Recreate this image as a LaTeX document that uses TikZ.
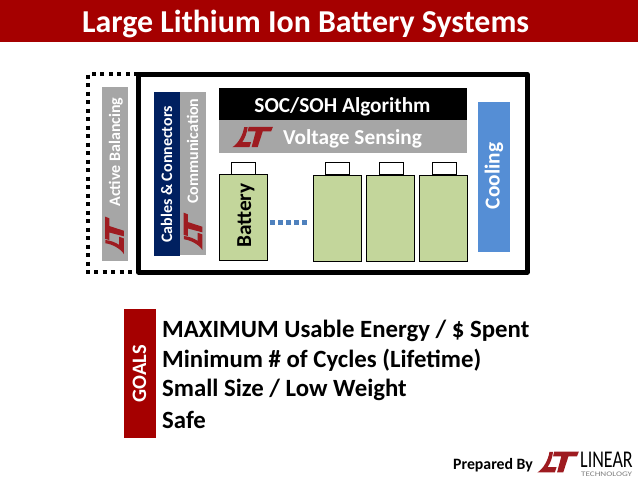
\documentclass[tikz,border=0pt]{standalone}
\usepackage{graphicx}
\usepackage{fontspec}
\setmainfont{Carlito}
\definecolor{hdr}{HTML}{A50000}
\definecolor{logored}{HTML}{9E1B20}
\definecolor{gbar}{HTML}{A6A6A6}
\definecolor{navy}{HTML}{002060}
\definecolor{cell}{HTML}{C3D69B}
\definecolor{cool}{HTML}{558ED5}
\definecolor{dots}{HTML}{4F81BD}
\tikzset{
  bar/.style={draw=none,minimum width=0pt,minimum height=0pt,inner sep=0pt},
  cellbox/.style={draw=black,fill=cell,line width=1.2pt},
  capbox/.style={draw=black,fill=white,line width=1.2pt},
  barlabel/.style={font=\fontsize{16}{16}\selectfont\bfseries,text=white,inner sep=0pt,rotate=90,anchor=base},
  biglabel/.style={font=\fontsize{21.3}{21.3}\selectfont\bfseries,inner sep=0pt,anchor=base},
  goalline/.style={font=\fontsize{24.8}{24.8}\selectfont\bfseries,text=black,anchor=west,inner sep=0pt},
}
\newcommand{\ltmark}[4]{%
  \begin{scope}[shift={(#1,#2)},rotate=#3,scale=#4]
    \fill[logored] (-21.7,11) .. controls (-15,7) and (-10,-3) .. (-9,-10.7) -- (-5.2,-10.7) .. controls (-6,-4) and (-8,1) .. (-11,5.5) -- (-1.5,5.5) -- (-3.4,11) -- cycle;
    \fill[logored] (-4,-11) -- (22,-11) -- (20,-6) -- (11,-6) -- (5.5,11) -- (-1,11) -- (3.5,-6) -- (-5.2,-6) -- cycle;
  \end{scope}}
\begin{document}
\begin{tikzpicture}[x=1pt,y=-1pt]
\useasboundingbox (0,0) rectangle (638,479);
\fill[white] (0,0) rectangle (638,479);
\node[bar,fill=hdr,minimum width=638pt,minimum height=42pt,anchor=north west] (header) at (0,0) {};
\node[font=\fontsize{31.9}{32}\selectfont\bfseries,text=white,inner sep=0pt,anchor=base west] (title) at (82,32.5) {Large Lithium Ion Battery Systems};

\draw[line width=4pt,dash pattern=on 4pt off 4.5pt] (138,74) -- (87.5,74) -- (87.5,272) -- (138,272);
\node[bar,fill=gbar,minimum width=26pt,minimum height=174pt,anchor=north west] (ab) at (102,87) {};
\node[barlabel] (abt) at (120,152) {Active Balancing};
\ltmark{114.5}{235.5}{90}{0.86}

\node[bar,fill=navy,minimum width=26pt,minimum height=164pt,anchor=north west] (cc) at (154,92) {};
\node[barlabel] (cct) at (172,174.5) {Cables \& Connectors};
\node[bar,fill=gbar,minimum width=26pt,minimum height=163pt,anchor=north west] (com) at (180,92) {};
\node[barlabel] (comt) at (198,151) {Communication};
\ltmark{193}{231.5}{90}{0.86}

\node[bar,fill=black,minimum width=248pt,minimum height=32pt,anchor=north west] (soc) at (219,88) {};
\node[biglabel,text=white] (soct) at (342.5,112.5) {SOC/SOH Algorithm};
\node[bar,fill=gbar,minimum width=248pt,minimum height=32.5pt,anchor=north west] (vs) at (219,120) {};
\node[biglabel,text=white] (vst) at (352.5,144.5) {Voltage Sensing};
\ltmark{252.5}{137}{0}{0.93}

\node[capbox,minimum width=24.5pt,minimum height=12pt,inner sep=0pt,anchor=north west] (c1) at (230.5,161.5) {};
\node[capbox,minimum width=24.5pt,minimum height=12pt,inner sep=0pt,anchor=north west] (c2) at (324.5,162) {};
\node[capbox,minimum width=24.5pt,minimum height=12pt,inner sep=0pt,anchor=north west] (c3) at (378.5,162) {};
\node[capbox,minimum width=24.5pt,minimum height=12pt,inner sep=0pt,anchor=north west] (c4) at (431.5,162) {};
\node[cellbox,minimum width=48pt,minimum height=86pt,inner sep=0pt,anchor=north west] (b1) at (218.5,173.5) {};
\node[cellbox,minimum width=48pt,minimum height=85.5pt,inner sep=0pt,anchor=north west] (b2) at (312.5,175) {};
\node[cellbox,minimum width=48pt,minimum height=85.5pt,inner sep=0pt,anchor=north west] (b3) at (366,175) {};
\node[cellbox,minimum width=48pt,minimum height=85.5pt,inner sep=0pt,anchor=north west] (b4) at (419,175) {};
\node[biglabel,text=black,rotate=90] (bt) at (251,215.5) {Battery};
\coordinate (dotstart) at (270,222);
\coordinate (dotend) at (307,222);
\draw[dots,line width=5pt,dash pattern=on 5pt off 3pt] (dotstart) -- (dotend);

\node[bar,fill=cool,minimum width=32pt,minimum height=150pt,anchor=north west] (cl) at (477.5,102) {};
\node[biglabel,text=white,rotate=90] (clt) at (499.5,176) {Cooling};

\draw[line width=5pt,line join=round] (138.5,74) rectangle (527,272);

\node[bar,fill=hdr,minimum width=32pt,minimum height=129pt,anchor=north west] (goals) at (124,309) {};
\node[font=\fontsize{20.5}{20.5}\selectfont\bfseries,text=white,inner sep=0pt,rotate=90,anchor=base] (gt) at (146,373.5) {GOALS};
\node[goalline] (g1) at (162,331) {MAXIMUM Usable Energy / \$ Spent};
\node[goalline] (g2) at (162,360) {Minimum \# of Cycles (Lifetime)};
\node[goalline] (g3) at (162,390) {Small Size / Low Weight};
\node[goalline] (g4) at (162,420) {Safe};

\node[font=\fontsize{15.8}{16}\selectfont\bfseries,inner sep=0pt,anchor=base west] (pb) at (453,469) {Prepared By};
\ltmark{558}{462}{0}{0.95}
\node[font=\fontsize{24}{24}\selectfont,inner sep=0pt,anchor=base west] (lin) at (580,467.5) {\scalebox{0.75}[1]{LINEAR}};
\node[font=\fontsize{7}{7}\selectfont,text=gray,inner sep=0pt,anchor=base west] (tech) at (581,476) {\scalebox{1.3}[1]{TECHNOLOGY}};
\end{tikzpicture}
\end{document}
